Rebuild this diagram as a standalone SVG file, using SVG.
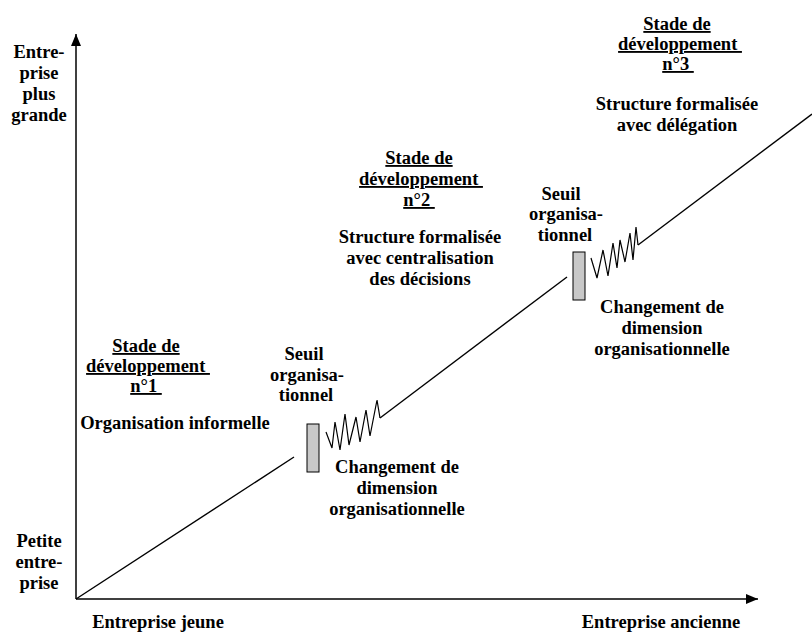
<svg xmlns="http://www.w3.org/2000/svg" width="812" height="634" viewBox="0 0 812 634">
<style>
text{font-family:"Liberation Serif","Times New Roman",serif;font-weight:bold;font-size:18.5px;fill:#000;text-anchor:middle}
.u{text-decoration:underline}
.ln{stroke:#000;stroke-width:1.4;fill:none}
.ax{stroke:#000;stroke-width:1.5;fill:none}
.zz{stroke:#000;stroke-width:1.2;fill:none;stroke-linejoin:miter}
.bar{fill:#c8c8c8;stroke:#000;stroke-width:1}
</style>
<defs>
<marker id="ah" markerWidth="12" markerHeight="10" refX="12" refY="5" orient="auto" markerUnits="userSpaceOnUse">
<path d="M0,0 L12,5 L0,10 Z" fill="#000"/>
</marker>
</defs>
<g id="connectors">
<line class="ax" x1="76" y1="599" x2="76" y2="34" marker-end="url(#ah)"/>
<line class="ax" x1="76" y1="599" x2="758" y2="599" marker-end="url(#ah)"/>
<line class="ln" x1="76" y1="599" x2="294" y2="457"/>
<polyline class="zz" points="326,432 332,448 335,422 340,450 345,414 349,445 356,417 360,442 366,410 370,436 377,400 380,418"/>
<line class="ln" x1="380" y1="418" x2="567" y2="277"/>
<polyline class="zz" points="591,258 597,278 603,250 608,276 613,243 617,268 620,240 625,262 630,233 633,260 636,227 638,245"/>
<line class="ln" x1="638" y1="245" x2="812" y2="114"/>
</g>
<g id="axis-y-top">
<text x="39" y="58">Entre-</text>
<text x="39" y="79">prise</text>
<text x="39" y="100">plus</text>
<text x="39" y="121">grande</text>
</g>
<g id="axis-y-bottom">
<text x="39" y="547">Petite</text>
<text x="39" y="568">entre-</text>
<text x="39" y="589">prise</text>
</g>
<g id="axis-x-left">
<text x="158" y="628">Entreprise jeune</text>
</g>
<g id="axis-x-right">
<text x="661" y="628">Entreprise ancienne</text>
</g>
<g id="stage1">
<text class="u" x="146" y="352" xml:space="preserve">Stade de</text>
<text class="u" x="148" y="372" xml:space="preserve">développement </text>
<text class="u" x="146" y="392" xml:space="preserve">n°1 </text>
<text x="175" y="429">Organisation informelle</text>
</g>
<g id="threshold1">
<rect class="bar" x="307" y="424" width="12" height="48"/>
<text x="304" y="360">Seuil</text>
<text x="307" y="380.5">organisa-</text>
<text x="306" y="401">tionnel</text>
</g>
<g id="change1">
<text x="397" y="473">Changement de</text>
<text x="397" y="494">dimension</text>
<text x="397" y="515">organisationnelle</text>
</g>
<g id="stage2">
<text class="u" x="419" y="164" xml:space="preserve">Stade de</text>
<text class="u" x="421" y="185" xml:space="preserve">développement </text>
<text class="u" x="419" y="206" xml:space="preserve">n°2 </text>
<text x="420" y="243">Structure formalisée</text>
<text x="420" y="264">avec centralisation</text>
<text x="420" y="285">des décisions</text>
</g>
<g id="threshold2">
<rect class="bar" x="573" y="252" width="12" height="48"/>
<text x="561" y="200">Seuil</text>
<text x="566" y="220">organisa-</text>
<text x="565" y="241">tionnel</text>
</g>
<g id="change2">
<text x="662" y="313">Changement de</text>
<text x="662" y="334">dimension</text>
<text x="662" y="355">organisationnelle</text>
</g>
<g id="stage3">
<text class="u" x="677" y="30" xml:space="preserve">Stade de</text>
<text class="u" x="680" y="50" xml:space="preserve">développement </text>
<text class="u" x="678" y="70" xml:space="preserve">n°3 </text>
<text x="677" y="110">Structure formalisée</text>
<text x="677" y="131">avec délégation</text>
</g>
</svg>
